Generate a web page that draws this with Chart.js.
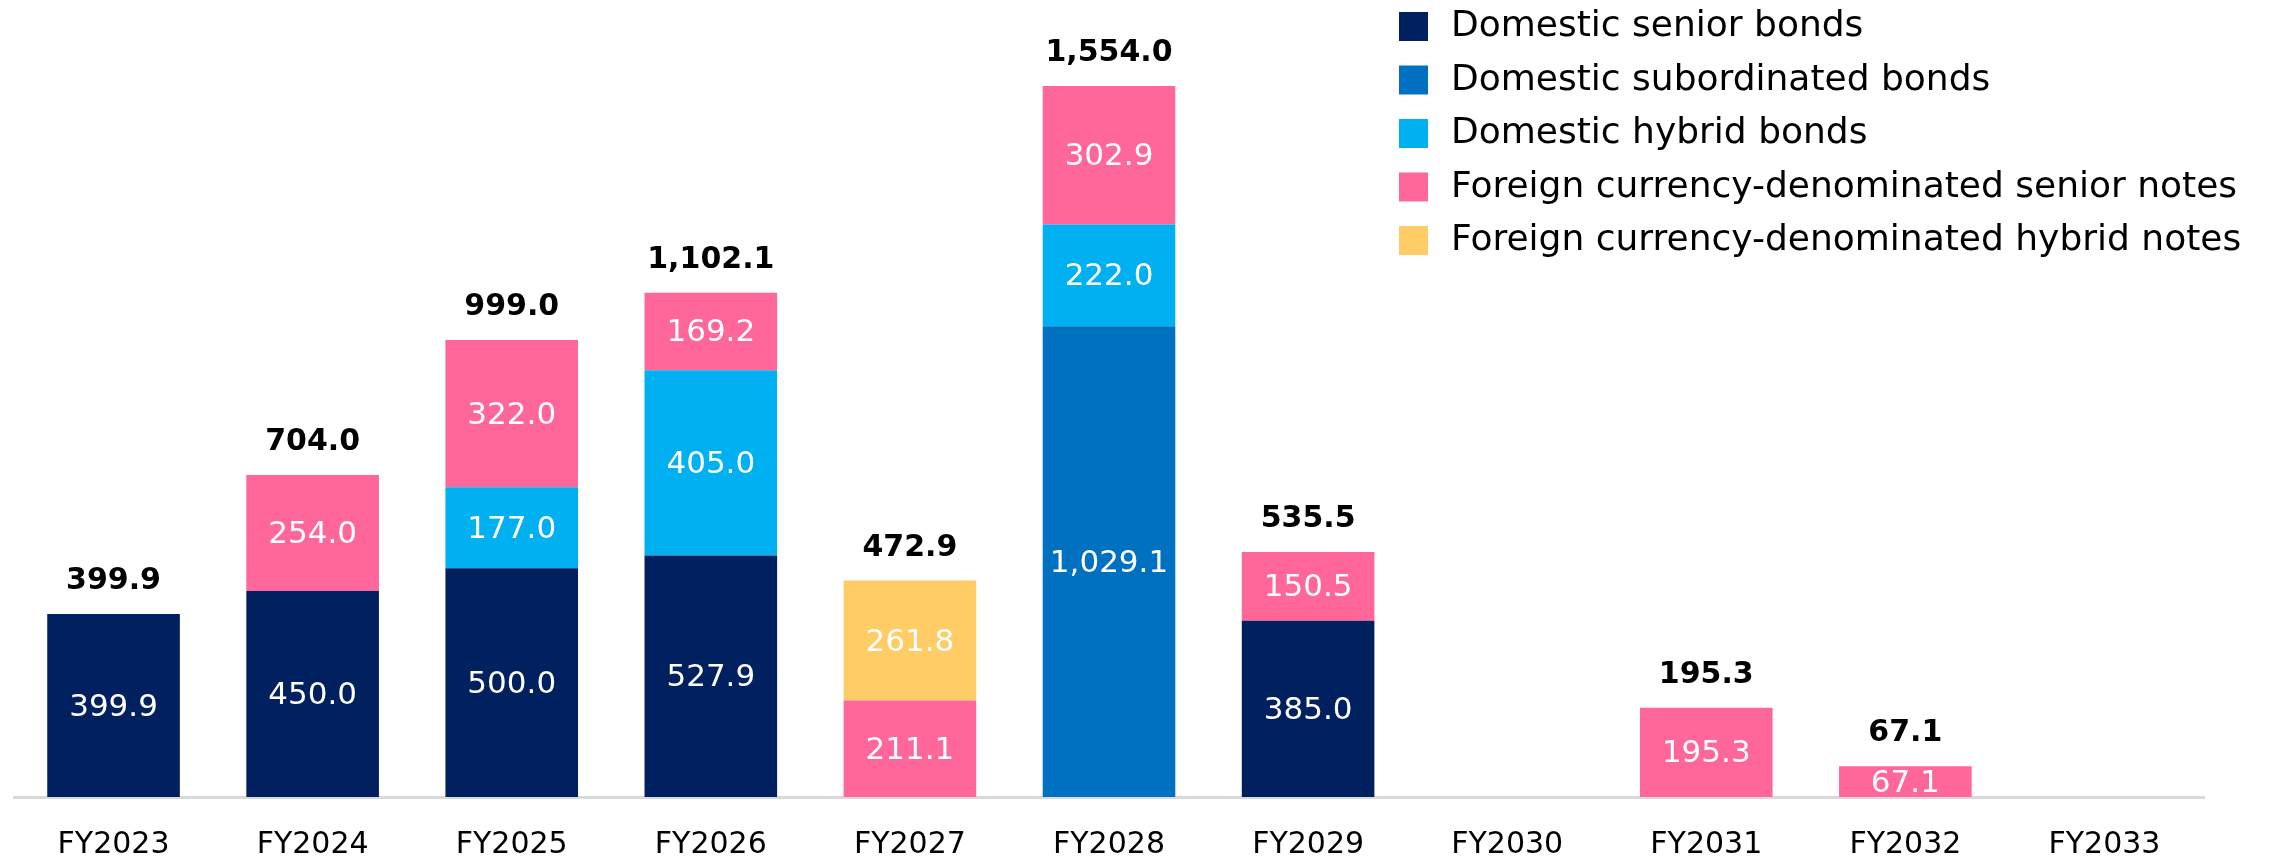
<!DOCTYPE html>
<html>
<head>
<meta charset="utf-8">
<script src="https://cdn.jsdelivr.net/npm/chart.js@4.4.0/dist/chart.umd.min.js"></script>
<style>
  html, body { margin: 0; padding: 0; background: #fff; }
  canvas { display: block; }
</style>
</head>
<body>
<canvas id="grafico" width="2274" height="860"></canvas>
<script>
// categories
var anios = ["FY2023", "FY2024", "FY2025", "FY2026", "FY2027", "FY2028", "FY2029", "FY2030", "FY2031", "FY2032", "FY2033"];

// series values (null = no issue that year)
var domesticSenior       = [399.9, 450.0, 500.0, 527.9, null, null,   385.0, null, null,  null, null];
var domesticSubordinated = [null,  null,  null,  null,  null, 1029.1, null,  null, null,  null, null];
var domesticHybrid       = [null,  null,  177.0, 405.0, null, 222.0,  null,  null, null,  null, null];
var foreignSenior        = [null,  254.0, 322.0, 169.2, 211.1, 302.9, 150.5, null, 195.3, 67.1, null];
var foreignHybrid        = [null,  null,  null,  null,  261.8, null,  null,  null, null,  null, null];

var nombres = [
    "Domestic senior bonds",
    "Domestic subordinated bonds",
    "Domestic hybrid bonds",
    "Foreign currency-denominated senior notes",
    "Foreign currency-denominated hybrid notes"
];
var colores = ['#002060', '#0070C0', '#00B0F0', '#FF6699', '#FFCC66'];
var series = [domesticSenior, domesticSubordinated, domesticHybrid, foreignSenior, foreignHybrid];

const FUENTE = "'DejaVu Sans', Verdana, sans-serif";

function formato(v) {
    return v.toLocaleString('en-US', {minimumFractionDigits: 1, maximumFractionDigits: 1});
}

var datasets = series.map(function (d, i) {
    return {
        label: nombres[i],
        data: d,
        backgroundColor: colores[i],
        borderWidth: 0,
        barPercentage: 0.666,
        categoryPercentage: 1.0,
        stack: 'total'
    };
});

// labels inside segments + bold totals on top
var etiquetas = {
    id: 'etiquetas',
    afterDatasetsDraw: function (chart) {
        var ctx = chart.ctx;
        var area = chart.chartArea;
        ctx.save();
        ctx.beginPath();
        ctx.rect(area.left, area.top, area.right - area.left, area.bottom - area.top);
        ctx.clip();
        ctx.fillStyle = '#ffffff';
        ctx.font = "31px " + FUENTE;
        ctx.textAlign = 'center';
        ctx.textBaseline = 'middle';
        chart.data.datasets.forEach(function (ds, di) {
            var meta = chart.getDatasetMeta(di);
            meta.data.forEach(function (bar, i) {
                var v = ds.data[i];
                if (v === null || v === undefined) return;
                ctx.fillText(formato(v), bar.x, (bar.y + bar.base) / 2 + 2);
            });
        });
        ctx.restore();

        ctx.save();
        ctx.fillStyle = '#000000';
        ctx.font = "bold 30px " + FUENTE;
        ctx.textAlign = 'center';
        ctx.textBaseline = 'alphabetic';
        var yScale = chart.scales.y;
        var xScale = chart.scales.x;
        anios.forEach(function (a, i) {
            var total = 0, hay = false;
            series.forEach(function (s) {
                if (s[i] !== null) { total += s[i]; hay = true; }
            });
            if (!hay) return;
            ctx.fillText(formato(total), xScale.getPixelForValue(i), yScale.getPixelForValue(total) - 25);
        });
        ctx.restore();
    }
};

// legend top right, one column
var leyenda = {
    id: 'leyenda',
    afterDraw: function (chart) {
        var ctx = chart.ctx;
        ctx.save();
        ctx.font = "36px " + FUENTE;
        ctx.textBaseline = 'middle';
        ctx.textAlign = 'left';
        chart.data.datasets.forEach(function (ds, i) {
            var y = 26 + i * 53.5;
            ctx.fillStyle = ds.backgroundColor;
            ctx.fillRect(1399, y - 14, 29, 29);
            ctx.fillStyle = '#000000';
            ctx.fillText(ds.label, 1451, y + 1);
        });
        ctx.restore();
    }
};

Chart.defaults.font.family = FUENTE;

var grafico = new Chart(document.getElementById("grafico").getContext("2d"), {
    type: 'bar',
    data: { labels: anios, datasets: datasets },
    options: {
        responsive: false,
        animation: false,
        layout: { padding: { left: 14, right: 70, top: 10, bottom: 0 } },
        plugins: {
            legend: { display: false },
            tooltip: { enabled: false }
        },
        scales: {
            x: {
                stacked: true,
                grid: { display: false, drawTicks: false },
                border: { display: true, color: '#D9D9D9', width: 3 },
                ticks: { color: '#000000', font: { size: 30 }, padding: 30, maxRotation: 0 },
                afterFit: function (scale) { scale.height = 63; }
            },
            y: {
                stacked: true,
                display: false,
                min: 0,
                max: 1720
            }
        }
    },
    plugins: [etiquetas, leyenda]
});
</script>
</body>
</html>
